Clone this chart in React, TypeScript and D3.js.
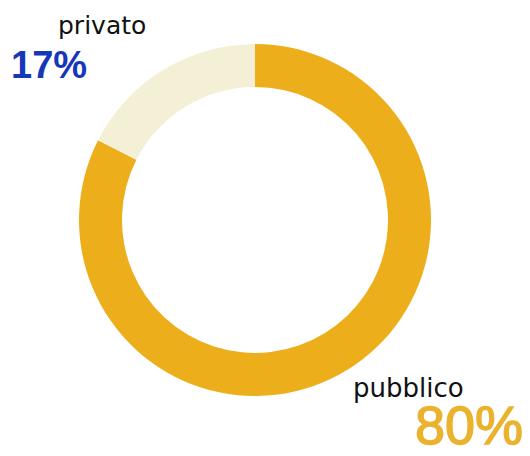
import React from "react";
import * as d3 from "d3";

const categories = ["pubblico", "privato"];
const values = [80, 17];
const labels = ["80%", "17%"];
const colors = ["#EDAE1C", "#F4F0D6"];

export default function App() {
  const width = 530;
  const height = 456;
  const cx = 255;
  const cy = 220;
  const outerR = 176;
  const innerR = 133;

  const pie = d3.pie<number>().sort(null).value((d) => d);
  const arcs = pie(values);
  const arcGen = d3.arc<d3.PieArcDatum<number>>().innerRadius(innerR).outerRadius(outerR);

  return (
    <svg
      width={width}
      height={height}
      style={{ position: "absolute", left: 0, top: 0, background: "#fff" }}
    >
      <g transform={`translate(${cx},${cy})`}>
        {arcs.map((a, i) => (
          <path key={categories[i]} d={arcGen(a) || ""} fill={colors[i]} />
        ))}
      </g>
      <text x={58} y={34} fontFamily="DejaVu Sans" fontSize={25} fill="#111">
        {categories[1]}
      </text>
      <text x={11} y={78} fontFamily="Liberation Sans" fontWeight="bold" fontSize={38} fill="#1637B8">
        {labels[1]}
      </text>
      <text x={353} y={397} fontFamily="DejaVu Sans" fontSize={26} fill="#111">
        {categories[0]}
      </text>
      <text
        x={523}
        y={444}
        textAnchor="end"
        fontFamily="Liberation Sans"
        fontSize={54}
        fill="#EBB22E"
        stroke="#EBB22E"
        strokeWidth={1.4}
      >
        {labels[0]}
      </text>
    </svg>
  );
}
